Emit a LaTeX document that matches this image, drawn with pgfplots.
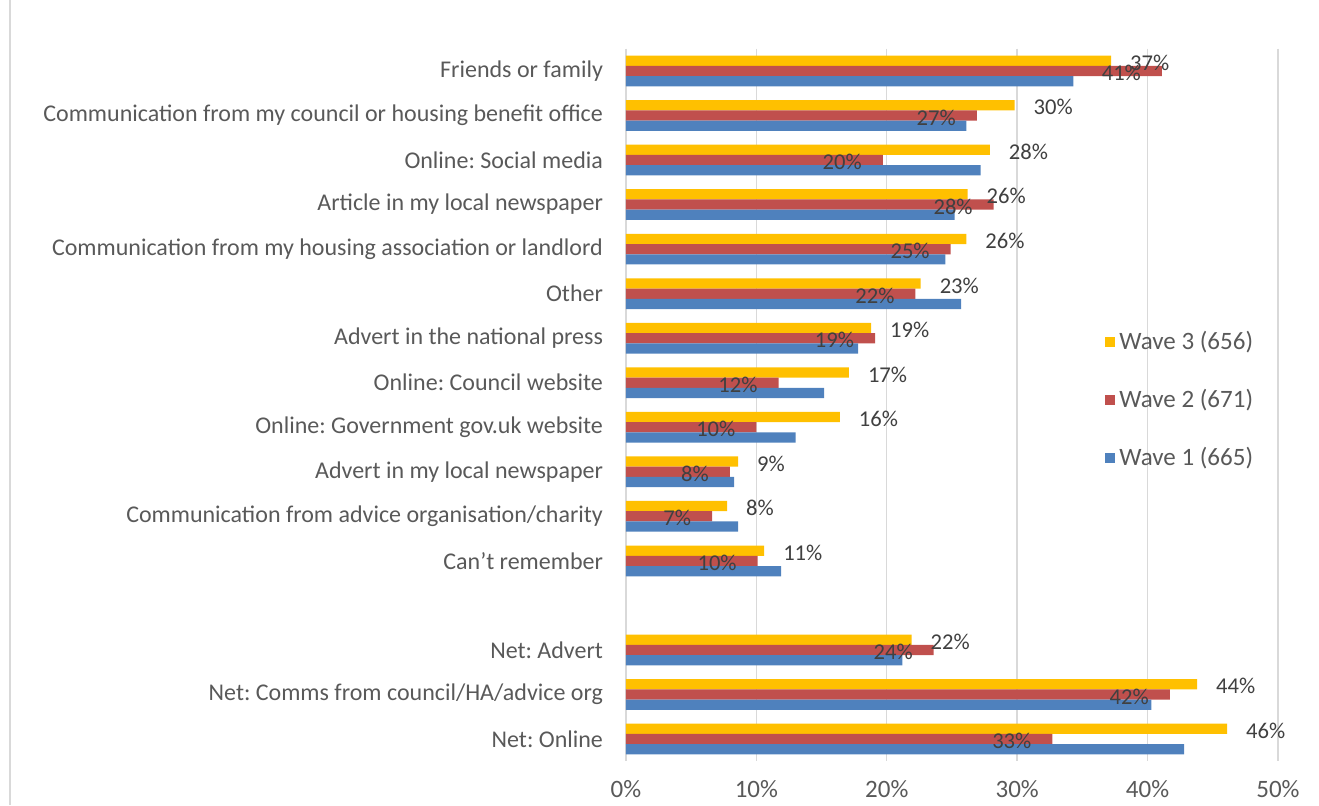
\documentclass[border=0pt]{standalone}
\usepackage{fontspec}
\setmainfont{Carlito}
\usepackage{pgfplots}
\usepackage{pgfplotstable}
\pgfplotsset{compat=1.18}

\definecolor{wthree}{HTML}{FFC000}
\definecolor{wtwo}{HTML}{C0504D}
\definecolor{wone}{HTML}{4F81BD}
\definecolor{txt}{HTML}{595959}
\definecolor{lbl}{HTML}{404040}
\definecolor{gridc}{HTML}{D9D9D9}

% pos = slot from the top (12 is the empty gap), values in percent
\pgfplotstableread{
pos w3   w2   w1
0   37.2 41.1 34.3
1   29.8 26.9 26.1
2   27.9 19.7 27.2
3   26.2 28.2 25.2
4   26.1 24.9 24.5
5   22.6 22.2 25.7
6   18.8 19.1 17.8
7   17.1 11.7 15.2
8   16.4 10.0 13.0
9   8.6  7.96 8.3
10  7.75 6.6  8.6
11  10.6 10.1 11.9
13  21.9 23.6 21.2
14  43.8 41.7 40.3
15  46.1 32.7 42.8
}\sources

\begin{document}
\frenchspacing
\begin{tikzpicture}
\path[use as bounding box] (-313pt,-21.85pt) rectangle (346.5pt,380.65pt);
\draw[gridc, line width=0.7pt] (-308pt,-21.85pt) -- (-308pt,380.65pt);
\begin{axis}[
    at={(0,0)}, anchor=south west,
    width=326pt, height=356.3pt, scale only axis,
    xbar, bar width=0.23,
    y dir=reverse,
    xmin=0, xmax=50, ymin=-0.5, ymax=15.5,
    xtick={0,10,20,30,40,50},
    xticklabel={\pgfmathprintnumber{\tick}\%},
    ytick={0,1,2,3,4,5,6,7,8,9,10,11,13,14,15},
    yticklabels={Friends or family,
        Communication from my council or housing benefit office,
        Online: Social media,
        Article in my local newspaper,
        Communication from my housing association or landlord,
        Other,
        Advert in the national press,
        Online: Council website,
        Online: Government gov.uk website,
        Advert in my local newspaper,
        Communication from advice organisation/charity,
        Can’t remember,
        Net: Advert,
        Net: Comms from council/HA/advice org,
        Net: Online},
    /pgf/number format/assume math mode=true,
    major tick length=0pt,
    axis line style={draw=none},
    xmajorgrids, grid style={gridc, line width=0.7pt},
    xticklabel style={font=\fontsize{12.5}{14}\selectfont, text=txt, yshift=-6pt},
    yticklabel style={font=\fontsize{12}{14}\selectfont, text=txt, xshift=-8pt},
    legend style={at={(0.725,0.507)}, anchor=west, draw=none, fill=none,
        font=\fontsize{12.5}{14}\selectfont, text=txt, row sep=14.3pt,
        legend cell align=left},
    legend image code/.code={\fill[#1] (0pt,-2.6pt) rectangle (5.2pt,2.6pt);},
    clip=false,
]
\addplot[fill=wthree, draw=none, bar shift=-0.23, point meta=x,
    nodes near coords={\pgfmathprintnumber[fixed,precision=0]{\pgfplotspointmeta}\%},
    every node near coord/.append style={anchor=west, xshift=6pt, yshift=-1pt,
        font=\fontsize{11.3}{13}\selectfont, text=lbl}]
    table[x=w3, y=pos] {\sources};
\addplot[fill=wtwo, draw=none, bar shift=0, point meta=x,
    nodes near coords={\pgfmathprintnumber[fixed,precision=0]{\pgfplotspointmeta}\%},
    every node near coord/.append style={anchor=east, xshift=-7pt, yshift=-1pt,
        font=\fontsize{11.3}{13}\selectfont, text=lbl}]
    table[x=w2, y=pos] {\sources};
\addplot[fill=wone, draw=none, bar shift=0.23]
    table[x=w1, y=pos] {\sources};
\legend{Wave 3 (656), Wave 2 (671), Wave 1 (665)}
\end{axis}
\end{tikzpicture}
\end{document}
